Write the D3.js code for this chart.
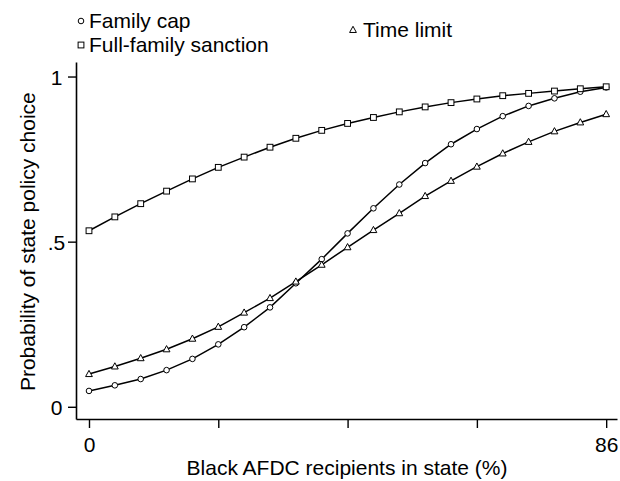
<!DOCTYPE html>
<html>
<head>
<meta charset="utf-8">
<script src="https://cdn.jsdelivr.net/npm/d3@7"></script>
<style>
  html, body { margin: 0; padding: 0; background: #fff; }
  svg { display: block; font-family: "Liberation Sans", Arial, Helvetica, sans-serif; }
</style>
</head>
<body>
<svg id="chart" width="620" height="481"></svg>
<script>
// ---- data ----
const xValues = [0, 4.3, 8.6, 12.9, 17.2, 21.5, 25.8, 30.1, 34.4, 38.7, 43, 47.3, 51.6, 55.9, 60.2, 64.5, 68.8, 73.1, 77.4, 81.7, 86];
const familyCap = [0.048, 0.065, 0.084, 0.111, 0.145, 0.189, 0.241, 0.301, 0.374, 0.447, 0.525, 0.601, 0.673, 0.738, 0.795, 0.841, 0.880, 0.911, 0.934, 0.954, 0.967];
const fullFamilySanction = [0.533, 0.575, 0.615, 0.653, 0.690, 0.725, 0.756, 0.786, 0.813, 0.837, 0.858, 0.876, 0.893, 0.908, 0.921, 0.932, 0.942, 0.949, 0.956, 0.963, 0.969];
const timeLimit = [0.099, 0.122, 0.147, 0.174, 0.206, 0.242, 0.285, 0.329, 0.379, 0.430, 0.483, 0.535, 0.586, 0.638, 0.684, 0.727, 0.767, 0.802, 0.834, 0.861, 0.886];
const xTicks = [0, 21.5, 43, 64.5, 86];
const xTickLabels = ["0", "", "", "", "86"];
const yTicks = [0, 0.5, 1];
const yTickLabels = ["0", ".5", "1"];
const xTitle = "Black AFDC recipients in state (%)";
const yTitle = "Probability of state policy choice";
const seriesNames = ["Family cap", "Full-family sanction", "Time limit"];
const seriesSymbols = ["circle", "square", "triangle"];

const series = [
  { name: seriesNames[0], values: familyCap, symbol: seriesSymbols[0] },
  { name: seriesNames[1], values: fullFamilySanction, symbol: seriesSymbols[1] },
  { name: seriesNames[2], values: timeLimit, symbol: seriesSymbols[2] }
];

const svg = d3.select("#chart");

// scales: domain extended so the axis lines span the plot region
const x = d3.scaleLinear().domain([-2.16, 87.8]).range([76, 617]);
const y = d3.scaleLinear().domain([-0.037, 1.044]).range([419, 62]);

const FONT = 21;

// x axis
const xAxis = svg.append("g")
  .attr("transform", `translate(0,${y(-0.037)})`)
  .call(d3.axisBottom(x).tickValues(xTicks).tickSize(9).tickSizeOuter(0)
    .tickFormat((d, i) => xTickLabels[i]));
xAxis.select(".domain").attr("stroke-width", 1.6).attr("stroke", "#000");
xAxis.selectAll(".tick line").attr("stroke-width", 1.4).attr("stroke", "#000");
xAxis.selectAll(".tick text").attr("font-size", FONT).attr("font-family", "Liberation Sans, Arial, sans-serif")
  .attr("fill", "#000").attr("y", 0).attr("dy", 0)
  .attr("transform", "translate(0,32.5)");

// y axis
const yAxis = svg.append("g")
  .attr("transform", `translate(${x(-2.16)},0)`)
  .call(d3.axisLeft(y).tickValues(yTicks).tickSize(8).tickSizeOuter(0)
    .tickFormat((d, i) => yTickLabels[i]));
yAxis.select(".domain").attr("stroke-width", 1.6).attr("stroke", "#000");
yAxis.selectAll(".tick line").attr("stroke-width", 1.4).attr("stroke", "#000");
yAxis.selectAll(".tick text").attr("font-size", FONT).attr("font-family", "Liberation Sans, Arial, sans-serif")
  .attr("fill", "#000").attr("text-anchor", "middle").attr("x", -19.5).attr("dy", "0.36em");

// axis titles
svg.append("text")
  .attr("x", 347).attr("y", 475)
  .attr("text-anchor", "middle").attr("font-size", FONT).attr("fill", "#000")
  .text(xTitle);
svg.append("text")
  .attr("transform", `translate(34.5,${(y(0) + y(1)) / 2}) rotate(-90)`)
  .attr("text-anchor", "middle").attr("font-size", FONT).attr("fill", "#000")
  .text(yTitle);

// lines
const line = d3.line().x((d, i) => x(xValues[i])).y(d => y(d));
const plot = svg.append("g");
series.forEach(s => {
  plot.append("path")
    .attr("d", line(s.values))
    .attr("fill", "none").attr("stroke", "#000").attr("stroke-width", 1.5);
});

function drawSymbol(g, type, cx, cy) {
  if (type === "circle") {
    g.append("circle").attr("cx", cx).attr("cy", cy).attr("r", 2.8)
      .attr("fill", "#fff").attr("stroke", "#000").attr("stroke-width", 1);
  } else if (type === "square") {
    g.append("rect").attr("x", cx - 2.9).attr("y", cy - 2.9).attr("width", 5.8).attr("height", 5.8)
      .attr("fill", "#fff").attr("stroke", "#000").attr("stroke-width", 1);
  } else {
    const h = 6.2, w = 6.8;
    g.append("path")
      .attr("d", `M${cx},${cy - h * 0.6}L${cx + w / 2},${cy + h * 0.4}L${cx - w / 2},${cy + h * 0.4}Z`)
      .attr("fill", "#fff").attr("stroke", "#000").attr("stroke-width", 1);
  }
}

series.forEach(s => {
  const g = plot.append("g");
  s.values.forEach((v, i) => drawSymbol(g, s.symbol, x(xValues[i]), y(v)));
});

// legend
const legendPos = [
  { sx: 81, sy: 21, tx: 89, ty: 28 },
  { sx: 81, sy: 45, tx: 89, ty: 52 },
  { sx: 353, sy: 30, tx: 363, ty: 37 }
];
series.forEach((s, i) => {
  const p = legendPos[i];
  const g = svg.append("g");
  drawSymbol(g, s.symbol, p.sx, p.sy);
  g.append("text").attr("x", p.tx).attr("y", p.ty)
    .attr("font-size", FONT).attr("fill", "#000").text(s.name);
});
</script>
</body>
</html>
